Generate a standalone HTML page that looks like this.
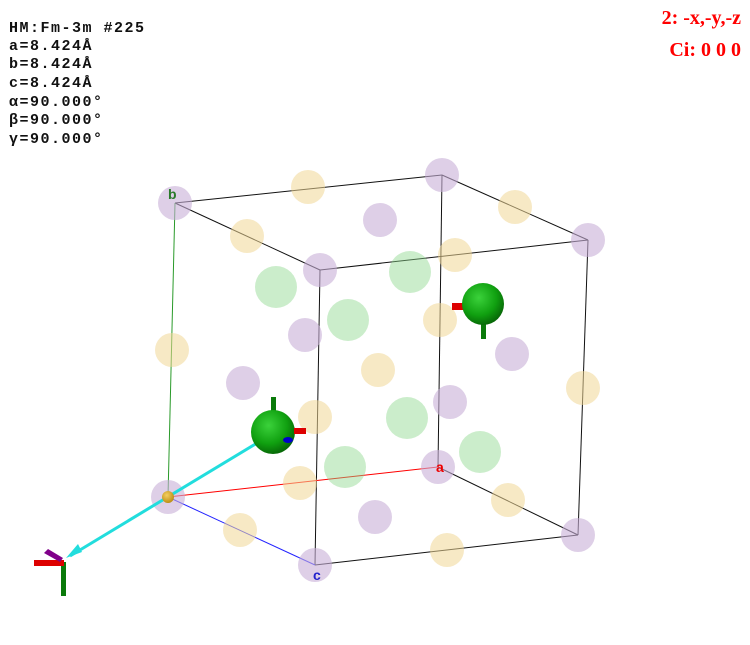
<!DOCTYPE html>
<html><head><meta charset="utf-8"><style>
body{margin:0;background:#fff;width:750px;height:645px;overflow:hidden}
svg{display:block}
.info{font-family:"Liberation Mono",monospace;font-weight:bold;font-size:15px;letter-spacing:1.5px;fill:#111}
.sym{font-family:"Liberation Serif",serif;font-size:20px;font-weight:bold;fill:#f00}
</style></head><body>
<svg width="750" height="645" viewBox="0 0 750 645">
<defs>
<radialGradient id="gg" cx="0.4" cy="0.35" r="0.7"><stop offset="0" stop-color="#3bd23b"/><stop offset="0.6" stop-color="#10a010"/><stop offset="1" stop-color="#066006"/></radialGradient>
<radialGradient id="og" cx="0.4" cy="0.35" r="0.7"><stop offset="0" stop-color="#f5cf60"/><stop offset="1" stop-color="#b88a10"/></radialGradient>
</defs>
<g stroke="#111" stroke-width="1" fill="none">
<line x1="175" y1="203" x2="442" y2="175"/><line x1="442" y1="175" x2="588" y2="240"/>
<line x1="175" y1="203" x2="320" y2="270"/><line x1="320" y1="270" x2="588" y2="240"/>
<line x1="442" y1="175" x2="438" y2="467"/><line x1="320" y1="270" x2="315" y2="565"/>
<line x1="588" y1="240" x2="578" y2="535"/><line x1="438" y1="467" x2="578" y2="535"/>
<line x1="315" y1="565" x2="578" y2="535"/>
</g>
<line x1="168" y1="497" x2="175" y2="203" stroke="#2a9a2a"/>
<line x1="168" y1="497" x2="438" y2="467" stroke="#f00"/>
<line x1="168" y1="497" x2="315" y2="565" stroke="#22f"/>
<g id="atoms"></g>
<line x1="262" y1="440" x2="70" y2="556" stroke="#2dd" stroke-width="3"/>
<polygon points="66,558 78,544 82,552" fill="#2dd"/>
<circle cx="168" cy="497" r="6" fill="url(#og)"/>
<g>
<rect x="271" y="397" width="5" height="18" fill="#0a7a0a"/>
<circle cx="273" cy="432" r="22" fill="url(#gg)"/>
<rect x="294" y="428" width="12" height="6" fill="#d00"/>
<ellipse cx="288" cy="440" rx="5" ry="3" fill="#00c"/>
</g>
<g>
<rect x="481" y="322" width="5" height="17" fill="#0a7a0a"/>
<rect x="452" y="303" width="14" height="7" fill="#d00"/>
<circle cx="483" cy="304" r="21" fill="url(#gg)"/>
</g>
<g>
<rect x="61" y="562" width="5" height="34" fill="#0a7a0a"/>
<rect x="34" y="560" width="30" height="6" fill="#d00"/>
<polygon points="44,553 48,549 63,558 60,562" fill="#80008a"/>
</g>
<text x="168" y="199" font-family="Liberation Sans" font-size="14" font-weight="bold" fill="#2a7a2a">b</text>
<text x="436" y="472" font-family="Liberation Sans" font-size="14" font-weight="bold" fill="#e00">a</text>
<text x="313" y="580" font-family="Liberation Sans" font-size="14" font-weight="bold" fill="#22c">c</text>
<g>
<text class="info" x="9" y="32">HM:Fm-3m #225</text>
<text class="info" x="9" y="50">a=8.424Å</text>
<text class="info" x="9" y="68">b=8.424Å</text>
<text class="info" x="9" y="87">c=8.424Å</text>
<text class="info" x="9" y="106">α=90.000°</text>
<text class="info" x="9" y="124">β=90.000°</text>
<text class="info" x="9" y="143">γ=90.000°</text>
</g>
<text class="sym" x="741" y="24" text-anchor="end">2: -x,-y,-z</text>
<text class="sym" x="741" y="56" text-anchor="end">Ci: 0 0 0</text>
</svg>
<script>
const purpleX=[175,442,588,320,168,438,315,578,380,305,512,243,450,375];
const purpleY=[203,175,240,270,497,467,565,535,220,335,354,383,402,517];
const yellowX=[308,515,247,455,440,172,378,583,315,300,240,508,447];
const yellowY=[187,207,236,255,320,350,370,388,417,483,530,500,550];
const greenX=[276,410,348,407,480,345];
const greenY=[287,272,320,418,452,467];
const g=document.getElementById('atoms');
function add(xs,ys,fill,name){
  for(let i=0;i<xs.length;i++){
    const c=document.createElementNS('http://www.w3.org/2000/svg','circle');
    c.setAttribute('cx',xs[i]);c.setAttribute('cy',ys[i]);
    c.setAttribute('r',name==='green-atom'?21:17);
    c.setAttribute('fill',fill);
    
    
    g.appendChild(c);
  }
}
add(yellowX,yellowY,'rgba(240,215,150,0.55)','yellow-atom');
add(purpleX,purpleY,'rgba(200,175,215,0.6)','purple-atom');
add(greenX,greenY,'rgba(140,215,140,0.45)','green-atom');
</script>
</body></html>
